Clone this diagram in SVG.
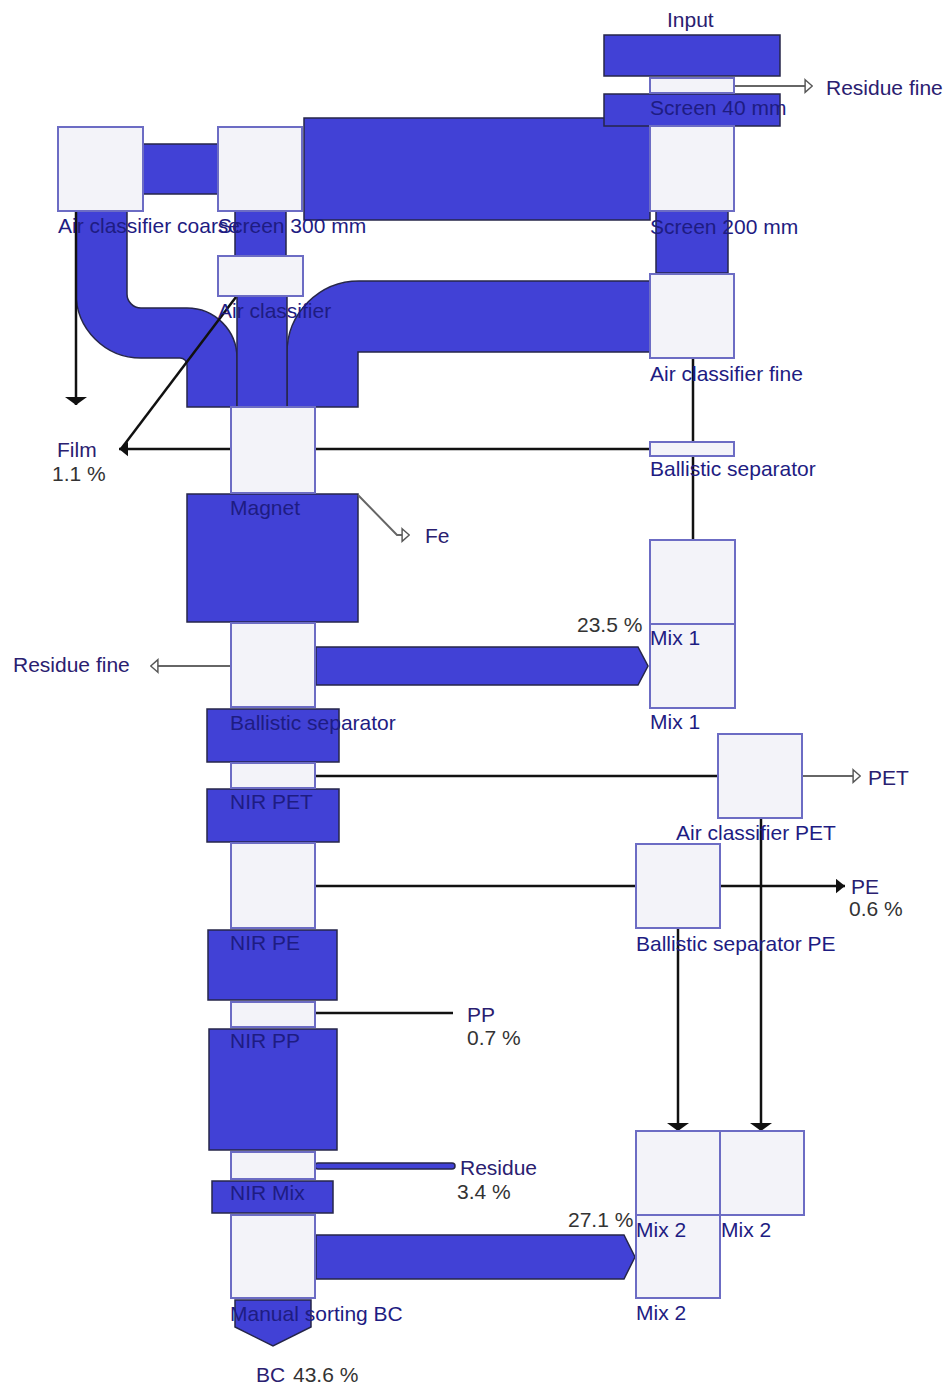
<svg xmlns="http://www.w3.org/2000/svg" width="947" height="1386" viewBox="0 0 947 1386">
<defs>
<style>
.flow{fill:#4141d6;stroke:#26264a;stroke-width:1.5}
.node{fill:#f3f3f9;stroke:#6c6cc4;stroke-width:2}
.ln{fill:none;stroke:#111;stroke-width:2.5}
.gl{fill:none;stroke:#666;stroke-width:2}
text{font-family:"Liberation Sans",Arial,sans-serif;font-size:21px}
.lbl{fill:#1e1c82}
.out{fill:#2a2070}
.pct{fill:#333}
</style>
<marker id="open" viewBox="0 0 10 16" refX="2" refY="8" markerWidth="9" markerHeight="16" markerUnits="userSpaceOnUse" orient="auto">
<path d="M1,1 L9,8 L1,15 Z" fill="#fff" stroke="#555" stroke-width="1.6"/>
</marker>
<marker id="fill" viewBox="0 0 10 16" refX="10" refY="8" markerWidth="9" markerHeight="15" markerUnits="userSpaceOnUse" orient="auto">
<path d="M0,0 L10,8 L0,16 Z" fill="#111"/>
</marker>
<marker id="wide" viewBox="0 0 8 22" refX="8" refY="11" markerWidth="8" markerHeight="22" markerUnits="userSpaceOnUse" orient="auto">
<path d="M0,0 L8,11 L0,22 Z" fill="#111"/>
</marker>
</defs>
<rect width="947" height="1386" fill="#fff"/>
<g id="connectors">
<rect class="flow" x="304" y="118" width="346" height="102"/>
<rect class="flow" x="604" y="35" width="176" height="41"/>
<rect class="flow" x="604" y="94" width="176" height="32"/>
<rect class="flow" x="143" y="144" width="75" height="50"/>
<rect class="flow" x="656" y="211" width="72" height="62"/>
<rect class="flow" x="235" y="211" width="51" height="45"/>
<path class="flow" d="M76,211 L76,293 A65,65 0 0 0 141,358 L180,358 A7,7 0 0 1 187,365 L187,407 L237,407 L237,358 A50,50 0 0 0 187,308 L141,308 A14,14 0 0 1 127,294 L127,211 Z"/>
<path class="flow" d="M287,407 L287,353 A72,72 0 0 1 359,281 L650,281 L650,352 L358,352 L358,407 Z"/>
<rect class="flow" x="237" y="296" width="50" height="111"/>
<rect class="flow" x="187" y="494" width="171" height="128"/>
<rect class="flow" x="207" y="709" width="132" height="53"/>
<rect class="flow" x="207" y="789" width="132" height="53"/>
<rect class="flow" x="208" y="930" width="129" height="70"/>
<rect class="flow" x="209" y="1029" width="128" height="121"/>
<rect class="flow" x="212" y="1181" width="121" height="32"/>
<polygon class="flow" points="235,1300 311,1300 311,1327 273,1346 235,1327"/>
<polygon class="flow" points="316,647 638,647 648,666 638,685 316,685"/>
<polygon class="flow" points="316,1235 624,1235 635,1257 624,1279 316,1279"/>
<rect class="flow" x="315" y="1163" width="140" height="6" rx="3"/>
<path class="gl" d="M734,86 H806" marker-end="url(#open)"/>
<path class="gl" d="M358,495 L397,535 H403" marker-end="url(#open)"/>
<path class="gl" d="M230,666 H157" marker-end="url(#open)"/>
<path class="gl" d="M802,776 H854" marker-end="url(#open)"/>
<path class="ln" d="M76,211 V405" marker-end="url(#wide)"/>
<path class="ln" d="M236,297 L121,449"/>
<path class="ln" d="M650,449 H119" marker-end="url(#fill)"/>
<path class="ln" d="M693,358 V442 M693,456 V540"/>
<path class="ln" d="M315,776 H718"/>
<path class="ln" d="M315,886 H636"/>
<path class="ln" d="M721,886 H845" marker-end="url(#fill)"/>
<path class="ln" d="M678,928 V1131" marker-end="url(#wide)"/>
<path class="ln" d="M761,818 V1131" marker-end="url(#wide)"/>
<path class="ln" d="M315,1013 H453"/>
</g>
<g id="acCoarse"><rect class="node" x="58" y="127" width="85" height="84"/><text class="lbl" x="58" y="233">Air classifier coarse</text></g>
<g id="screen300"><rect class="node" x="218" y="127" width="84" height="84"/><text class="lbl" x="218" y="233">Screen 300 mm</text></g>
<g id="screen40"><rect class="node" x="650" y="78" width="84" height="15"/><text class="lbl" x="650" y="115">Screen 40 mm</text></g>
<g id="screen200"><rect class="node" x="650" y="126" width="84" height="85"/><text class="lbl" x="650" y="234">Screen 200 mm</text></g>
<g id="airClassifier"><rect class="node" x="218" y="256" width="85" height="40"/><text class="lbl" x="218" y="318">Air classifier</text></g>
<g id="acFine"><rect class="node" x="650" y="274" width="84" height="84"/><text class="lbl" x="650" y="381">Air classifier fine</text></g>
<g id="ballisticTop"><rect class="node" x="650" y="442" width="84" height="14"/><text class="lbl" x="650" y="476">Ballistic separator</text></g>
<g id="magnet"><rect class="node" x="231" y="407" width="84" height="86"/><text class="lbl" x="230" y="515">Magnet</text></g>
<g id="ballistic"><rect class="node" x="231" y="623" width="84" height="84"/><text class="lbl" x="230" y="730">Ballistic separator</text></g>
<g id="nirPet"><rect class="node" x="231" y="763" width="84" height="25"/><text class="lbl" x="230" y="809">NIR PET</text></g>
<g id="nirPe"><rect class="node" x="231" y="843" width="84" height="85"/><text class="lbl" x="230" y="950">NIR PE</text></g>
<g id="nirPp"><rect class="node" x="231" y="1002" width="84" height="25"/><text class="lbl" x="230" y="1048">NIR PP</text></g>
<g id="nirMix"><rect class="node" x="231" y="1152" width="84" height="27"/><text class="lbl" x="230" y="1200">NIR Mix</text></g>
<g id="manualBC"><rect class="node" x="231" y="1215" width="84" height="83"/><text class="lbl" x="230" y="1321">Manual sorting BC</text></g>
<g id="mix1b"><rect class="node" x="650" y="624" width="85" height="84"/><text class="lbl" x="650" y="729">Mix 1</text></g>
<g id="mix1a"><rect class="node" x="650" y="540" width="85" height="84"/><text class="lbl" x="650" y="645">Mix 1</text></g>
<g id="acPet"><rect class="node" x="718" y="734" width="84" height="84"/><text class="lbl" x="676" y="840">Air classifier PET</text></g>
<g id="bsPe"><rect class="node" x="636" y="844" width="84" height="84"/><text class="lbl" x="636" y="951">Ballistic separator PE</text></g>
<g id="mix2c"><rect class="node" x="636" y="1215" width="84" height="83"/><text class="lbl" x="636" y="1320">Mix 2</text></g>
<g id="mix2a"><rect class="node" x="636" y="1131" width="84" height="84"/><text class="lbl" x="636" y="1237">Mix 2</text></g>
<g id="mix2b"><rect class="node" x="720" y="1131" width="84" height="84"/><text class="lbl" x="721" y="1237">Mix 2</text></g>
<g id="outputs">
<text class="out" x="667" y="27">Input</text>
<text class="out" x="826" y="95">Residue fine</text>
<text class="out" x="425" y="543">Fe</text>
<text class="out" x="57" y="457">Film</text>
<text class="pct" x="52" y="481">1.1 %</text>
<text class="out" x="13" y="672">Residue fine</text>
<text class="pct" x="577" y="632">23.5 %</text>
<text class="out" x="868" y="785">PET</text>
<text class="out" x="851" y="894">PE</text>
<text class="pct" x="849" y="916">0.6 %</text>
<text class="out" x="467" y="1022">PP</text>
<text class="pct" x="467" y="1045">0.7 %</text>
<text class="out" x="460" y="1175">Residue</text>
<text class="pct" x="457" y="1199">3.4 %</text>
<text class="pct" x="568" y="1227">27.1 %</text>
<text class="out" x="256" y="1382">BC</text>
<text class="pct" x="293" y="1382">43.6 %</text>
</g>
</svg>
